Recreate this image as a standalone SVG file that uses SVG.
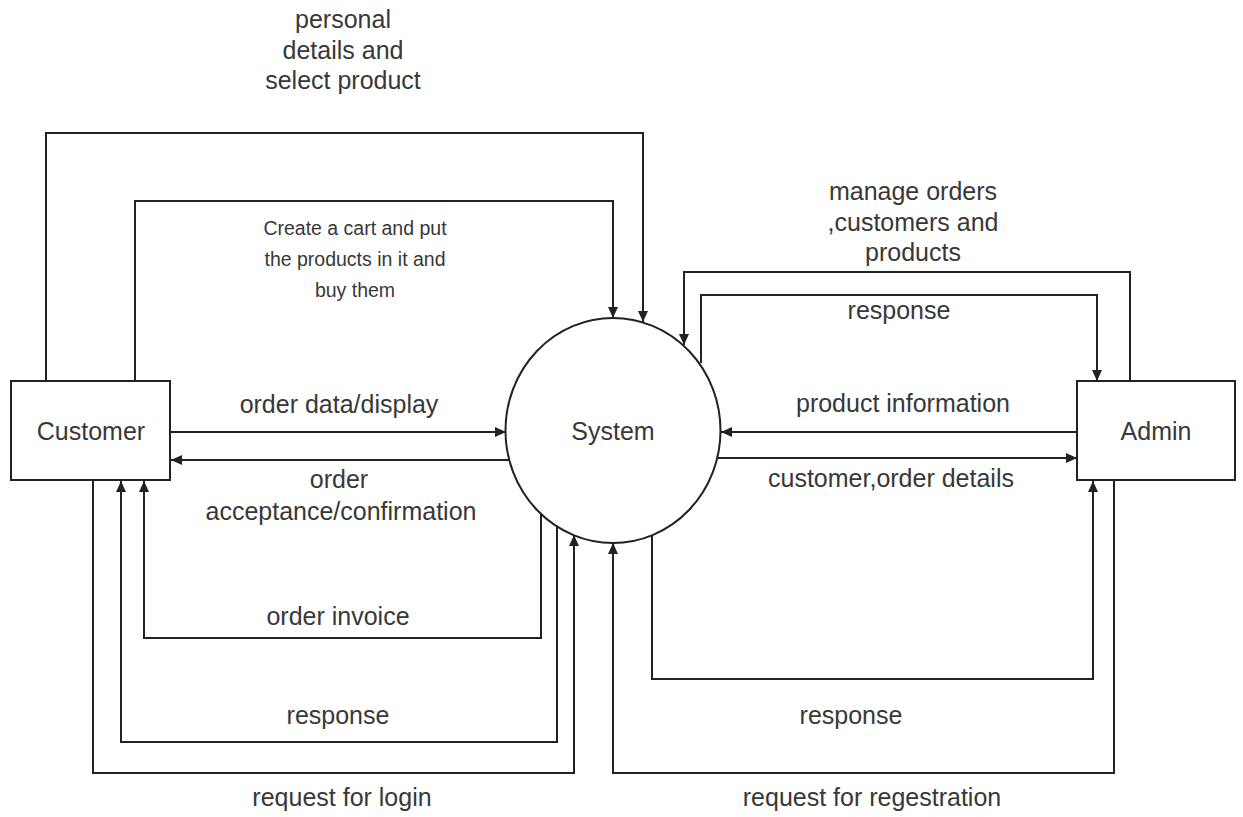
<svg xmlns="http://www.w3.org/2000/svg" width="1243" height="817" viewBox="0 0 1243 817">
<style>
.node{fill:#ffffff;stroke:#222;stroke-width:2}
.edge{fill:none;stroke:#222;stroke-width:2}
.lbl{font-family:"Liberation Sans",Arial,sans-serif;font-size:25px;fill:#383838;text-anchor:middle}
.small{font-family:"Liberation Sans",Arial,sans-serif;font-size:19.5px;fill:#383838;text-anchor:middle}
</style>
<defs>
<marker id="arr" markerUnits="userSpaceOnUse" markerWidth="12" markerHeight="10" refX="11" refY="5" orient="auto">
<path d="M0,0 L11,5 L0,10 Z" fill="#222"/>
</marker>
</defs>
<rect width="1243" height="817" fill="#ffffff"/>
<g id="connectors">
<path class="edge" marker-end="url(#arr)" d="M46,381 V133 H643 V322"/>
<path class="edge" marker-end="url(#arr)" d="M135,381 V201 H613 V318"/>
<path class="edge" marker-end="url(#arr)" d="M1130,381 V272 H684 V345"/>
<path class="edge" marker-end="url(#arr)" d="M701,363 V295 H1097 V381"/>
<path class="edge" marker-end="url(#arr)" d="M170,432 H506"/>
<path class="edge" marker-end="url(#arr)" d="M509,460 H171"/>
<path class="edge" marker-end="url(#arr)" d="M1077,432 H721"/>
<path class="edge" marker-end="url(#arr)" d="M717,458 H1077"/>
<path class="edge" marker-end="url(#arr)" d="M541,514 V638 H144 V481"/>
<path class="edge" marker-end="url(#arr)" d="M557,527 V742 H121 V481"/>
<path class="edge" marker-end="url(#arr)" d="M93,480 V773 H574 V535"/>
<path class="edge" marker-end="url(#arr)" d="M1114,480 V773 H613 V543"/>
<path class="edge" marker-end="url(#arr)" d="M652,535 V679 H1093 V481"/>
</g>
<g id="labels">
<text class="lbl" x="343" y="28">personal</text>
<text class="lbl" x="343" y="58.5">details and</text>
<text class="lbl" x="343" y="89">select product</text>
<text class="small" x="355" y="235">Create a cart and put</text>
<text class="small" x="355" y="266">the products in it and</text>
<text class="small" x="355" y="297">buy them</text>
<text class="lbl" x="339" y="413">order data/display</text>
<text class="lbl" x="339" y="488">order</text>
<text class="lbl" x="341" y="520">acceptance/confirmation</text>
<text class="lbl" x="338" y="625">order invoice</text>
<text class="lbl" x="338" y="724">response</text>
<text class="lbl" x="342" y="806">request for login</text>
<text class="lbl" x="913" y="200">manage orders</text>
<text class="lbl" x="913" y="231">,customers and</text>
<text class="lbl" x="913" y="261">products</text>
<text class="lbl" x="899" y="319">response</text>
<text class="lbl" x="903" y="412">product information</text>
<text class="lbl" x="891" y="487">customer,order details</text>
<text class="lbl" x="851" y="724">response</text>
<text class="lbl" x="872" y="806">request for regestration</text>
</g>
<g id="customer">
<rect class="node" x="11" y="381" width="159" height="99"/>
<text class="lbl" x="91" y="440">Customer</text>
</g>
<g id="system">
<ellipse class="node" cx="613" cy="430.5" rx="107.5" ry="112.5"/>
<text class="lbl" x="613" y="440">System</text>
</g>
<g id="admin">
<rect class="node" x="1077" y="381" width="158" height="99"/>
<text class="lbl" x="1156" y="440">Admin</text>
</g>
</svg>
